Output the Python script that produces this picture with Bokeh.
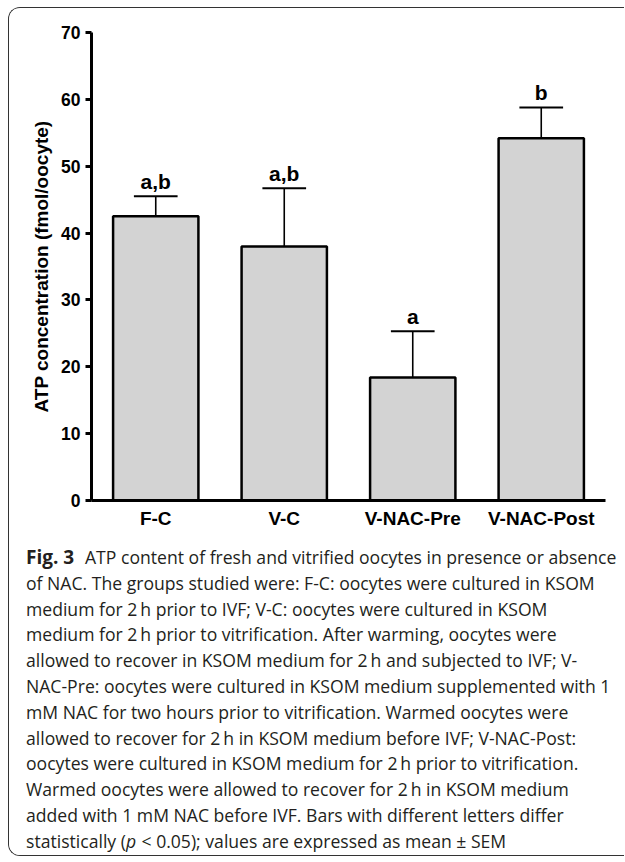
from bokeh.plotting import figure
from bokeh.layouts import column
from bokeh.models import FixedTicker, Range1d, ColumnDataSource
from bokeh.core.properties import value
from bokeh.embed import file_html
from bokeh.resources import INLINE

# ---- data ----
categories = ["F-C", "V-C", "V-NAC-Pre", "V-NAC-Post"]
means = [42.5, 38.0, 18.4, 54.2]
sems = [3.0, 8.7, 6.9, 4.6]
letters = ["a,b", "a,b", "a", "b"]
y_ticks = [0, 10, 20, 30, 40, 50, 60, 70]
y_label = "ATP concentration (fmol/oocyte)"

caption_bold = "Fig. 3"
caption_lines = [
    "ATP content of fresh and vitrified oocytes in presence or absence",
    "of NAC. The groups studied were: F-C: oocytes were cultured in KSOM",
    "medium for 2\u2009h prior to IVF; V-C: oocytes were cultured in KSOM",
    "medium for 2\u2009h prior to vitrification. After warming, oocytes were",
    "allowed to recover in KSOM medium for 2\u2009h and subjected to IVF; V-",
    "NAC-Pre: oocytes were cultured in KSOM medium supplemented with 1",
    "mM NAC for two hours prior to vitrification. Warmed oocytes were",
    "allowed to recover for 2\u2009h in KSOM medium before IVF; V-NAC-Post:",
    "oocytes were cultured in KSOM medium for 2\u2009h prior to vitrification.",
    "Warmed oocytes were allowed to recover for 2\u2009h in KSOM medium",
    "added with 1 mM NAC before IVF. Bars with different letters differ",
]
last_line = ["statistically (", "p", "< 0.05); values are expressed as mean \u00b1 SEM"]

xs = list(range(len(categories)))
tops = [m + s for m, s in zip(means, sems)]
src = ColumnDataSource(dict(
    x=xs, mean=means, top=tops, letter=letters,
    cl=[x - 0.17 for x in xs], cr=[x + 0.17 for x in xs],
))

W = 615
HC = 530
HCAP = 317
FONT = "Liberation Sans"

p = figure(width=W, height=HC, output_backend="svg", toolbar_location=None,
           x_range=Range1d(-0.5, len(categories) - 0.5), y_range=Range1d(0, 70),
           min_border_left=82, min_border_right=19, min_border_top=24,
           min_border_bottom=HC - 492, frame_align=False)
p.grid.visible = False
p.outline_line_color = None
p.background_fill_color = "white"
p.border_fill_color = "white"

# bars
p.vbar(x="x", top="mean", bottom=0, width=0.664, source=src,
       fill_color="#d3d3d3", line_color="black", line_width=2.5)
# error bars (upper only)
p.segment(x0="x", y0="mean", x1="x", y1="top", source=src,
          line_color="black", line_width=1.6)
p.segment(x0="cl", y0="top", x1="cr", y1="top", source=src,
          line_color="black", line_width=2)
# significance letters
p.text(x="x", y="top", text="letter", source=src, text_align="center",
       text_baseline="bottom", y_offset=-3,
       text_font=value(FONT), text_font_style="bold",
       text_font_size="21px", text_color="black")

# axes
xa = p.xaxis[0]
xa.ticker = FixedTicker(ticks=xs)
xa.major_label_overrides = {i: c for i, c in zip(xs, categories)}
xa.major_tick_out = 0
xa.major_tick_in = 0
xa.minor_tick_out = 0
xa.minor_tick_in = 0
xa.axis_line_width = 3
xa.axis_line_color = "black"
xa.major_label_text_font = FONT
xa.major_label_text_font_style = "bold"
xa.major_label_text_font_size = "19px"
xa.major_label_text_color = "black"
xa.major_label_standoff = 7

ya = p.yaxis[0]
ya.ticker = FixedTicker(ticks=y_ticks)
ya.major_tick_out = 6
ya.major_tick_in = 0
ya.minor_tick_out = 0
ya.minor_tick_in = 0
ya.major_tick_line_width = 3
ya.major_tick_line_color = "black"
ya.axis_line_width = 3
ya.axis_line_color = "black"
ya.major_label_text_font = FONT
ya.major_label_text_font_style = "bold"
ya.major_label_text_font_size = "17.5px"
ya.major_label_text_color = "black"
ya.major_label_standoff = 5
ya.axis_label = y_label
ya.axis_label_text_font = FONT
ya.axis_label_text_font_style = "bold"
ya.axis_label_text_font_size = "19px"
ya.axis_label_text_color = "black"
ya.axis_label_standoff = 6

# caption figure: pixel coordinates
cap = figure(width=W, height=HCAP, output_backend="svg", toolbar_location=None,
             x_range=Range1d(0, W), y_range=Range1d(HCAP, 0),
             x_axis_location=None, y_axis_location=None,
             min_border=0, min_border_left=0, min_border_right=0,
             min_border_top=0, min_border_bottom=0, frame_align=False)
cap.grid.visible = False
cap.outline_line_color = None
cap.background_fill_color = "white"
cap.border_fill_color = "white"

CF = "Open Sans"
CS = "17.6px"
CC = "#231f20"
X0 = 16.5
Y0 = 18.5
DY = 25.8

cap.text(x=[X0], y=[Y0], text=[caption_bold], text_font=value(CF),
         text_font_size="19px", text_font_style="bold", text_color=CC,
         text_baseline="alphabetic")
line_x = [X0 + 59] + [X0] * (len(caption_lines) - 1)
line_y = [Y0 + i * DY for i in range(len(caption_lines))]
cap.text(x=line_x, y=line_y, text=caption_lines, text_font=value(CF),
         text_font_size=CS, text_color=CC, text_baseline="alphabetic")
yl = Y0 + len(caption_lines) * DY
cap.text(x=[X0], y=[yl], text=[last_line[0]], text_font=value(CF),
         text_font_size=CS, text_color=CC, text_baseline="alphabetic")
cap.text(x=[X0 + 100], y=[yl], text=[last_line[1]], text_font=value(CF),
         text_font_size=CS, text_font_style="italic", text_color=CC,
         text_baseline="alphabetic")
cap.text(x=[X0 + 115.5], y=[yl], text=[last_line[2]], text_font=value(CF),
         text_font_size=CS, text_color=CC, text_baseline="alphabetic")

layout = column(p, cap, spacing=0, styles={
    "margin": "7px 0 0 8px",
    "border-left": "1.5px solid #333333",
    "border-top": "1.5px solid #333333",
    "border-bottom": "1.5px solid #333333",
    "border-right": "none",
    "border-radius": "12px 0 0 12px",
    "overflow": "hidden",
})

open("out.html", "w").write(file_html(layout, INLINE))
